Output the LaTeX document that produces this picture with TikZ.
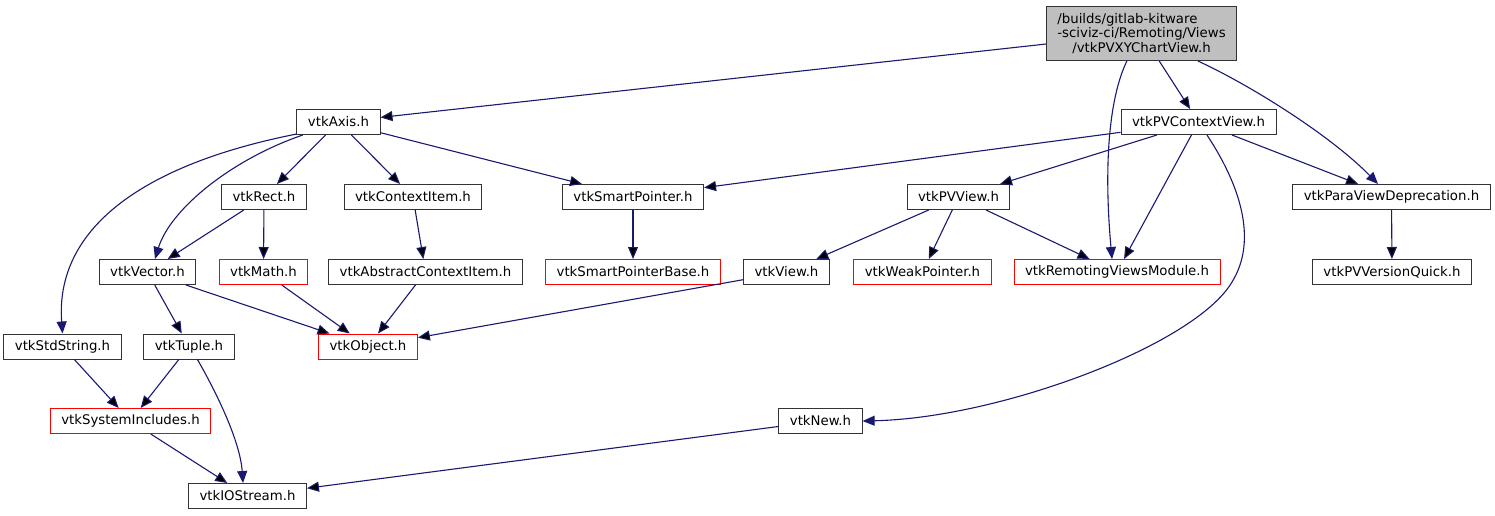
\documentclass[tikz,border=0pt]{standalone}
\usepackage{fontspec}
\setmainfont{DejaVu Sans}
\usepackage{calc}
\usetikzlibrary{arrows.meta}

\definecolor{midnight}{HTML}{191970}
\tikzset{
	header/.style={rectangle, draw=black!80, line width=1pt, minimum height=25pt,
		inner xsep=11pt, inner ysep=0pt, font=\fontsize{13.3}{14.7}\selectfont},
	missing/.style={header, draw=red},
	mainfile/.style={header, fill=black!25, minimum width=190pt, minimum height=54pt, align=center},
	inc/.style={draw=midnight, line width=1.1pt, -{Triangle[length=12pt,width=10pt]}},
}

\begin{document}
\begin{tikzpicture}[x=1pt, y=-1pt]
	\useasboundingbox (0,0) rectangle (1495,515);

	\node[mainfile] (root) at (1141.5,33.5)
		{\makebox[\widthof{-sciviz-ci/Remoting/Views}][l]{/builds/gitlab-kitware}\\-sciviz-ci/Remoting/Views\\/vtkPVXYChartView.h};

	\node[header] (axis) at (338.5,122) {vtkAxis.h};
	\node[header] (pvcv) at (1198.5,122) {vtkPVContextView.h};

	\node[header] (rect) at (264,197) {vtkRect.h};
	\node[header] (ci) at (413,197) {vtkContextItem.h};
	\node[header] (sp) at (633,197) {vtkSmartPointer.h};
	\node[header] (pvview) at (958.5,197) {vtkPVView.h};
	\node[header] (pvd) at (1391.5,197) {vtkParaViewDeprecation.h};

	\node[header] (vector) at (147.5,272) {vtkVector.h};
	\node[missing] (math) at (263.5,272) {vtkMath.h};
	\node[header] (aci) at (425.5,272) {vtkAbstractContextItem.h};
	\node[missing] (spb) at (633,272) {vtkSmartPointerBase.h};
	\node[header] (view) at (786.5,272) {vtkView.h};
	\node[missing] (weak) at (922.5,272) {vtkWeakPointer.h};
	\node[missing] (rvm) at (1117,272) {vtkRemotingViewsModule.h};
	\node[header] (pvq) at (1392,272) {vtkPVVersionQuick.h};

	\node[header] (stdstr) at (62.5,346.5) {vtkStdString.h};
	\node[header] (tuple) at (189,346.5) {vtkTuple.h};
	\node[missing] (object) at (368,346.5) {vtkObject.h};

	\node[missing] (sysinc) at (130.5,421) {vtkSystemIncludes.h};
	\node[header] (vnew) at (820.5,421) {vtkNew.h};

	\node[header] (iostr) at (247.5,496) {vtkIOStream.h};

	\draw [inc]
		(root) edge (axis)
		(root) edge (pvcv)

		(axis) edge (rect)
		(axis) edge (ci)
		(axis) edge (sp)

		(pvcv) edge (sp)
		(pvcv) edge (pvview)
		(pvcv) edge (rvm)
		(pvcv) edge (pvd)

		(rect) edge (vector)
		(rect) edge (math)
		(ci) edge (aci)
		(sp) edge (spb)
		(pvview) edge (view)
		(pvview) edge (weak)
		(pvview) edge (rvm)
		(pvd) edge (pvq)

		(vector) edge (tuple)
		(vector) edge (object)
		(math) edge (object)
		(aci) edge (object)
		(view) edge (object)

		(stdstr) edge (sysinc)
		(tuple) edge (sysinc)
		(sysinc) edge (iostr)
		(vnew) edge (iostr)
		;

	% curved includes
	\draw [inc] (root.242) .. controls (1108,100) and (1104,170) .. (rvm.111);
	\draw [inc] (root.334) .. controls (1250,85) and (1330,135) .. (pvd.136);
	\draw [inc] (axis.196) .. controls (140,165) and (55,230) .. (stdstr.north);
	\draw [inc] (axis.200) .. controls (230,160) and (170,210) .. (vector.60);
	\draw [inc] (pvcv.303) .. controls (1240,185) and (1258,240) .. (1232,282)
		.. controls (1195,345) and (1000,418) .. (vnew.east);
	\draw [inc] (tuple.303) .. controls (215,390) and (240,440) .. (iostr.109);
\end{tikzpicture}
\end{document}
